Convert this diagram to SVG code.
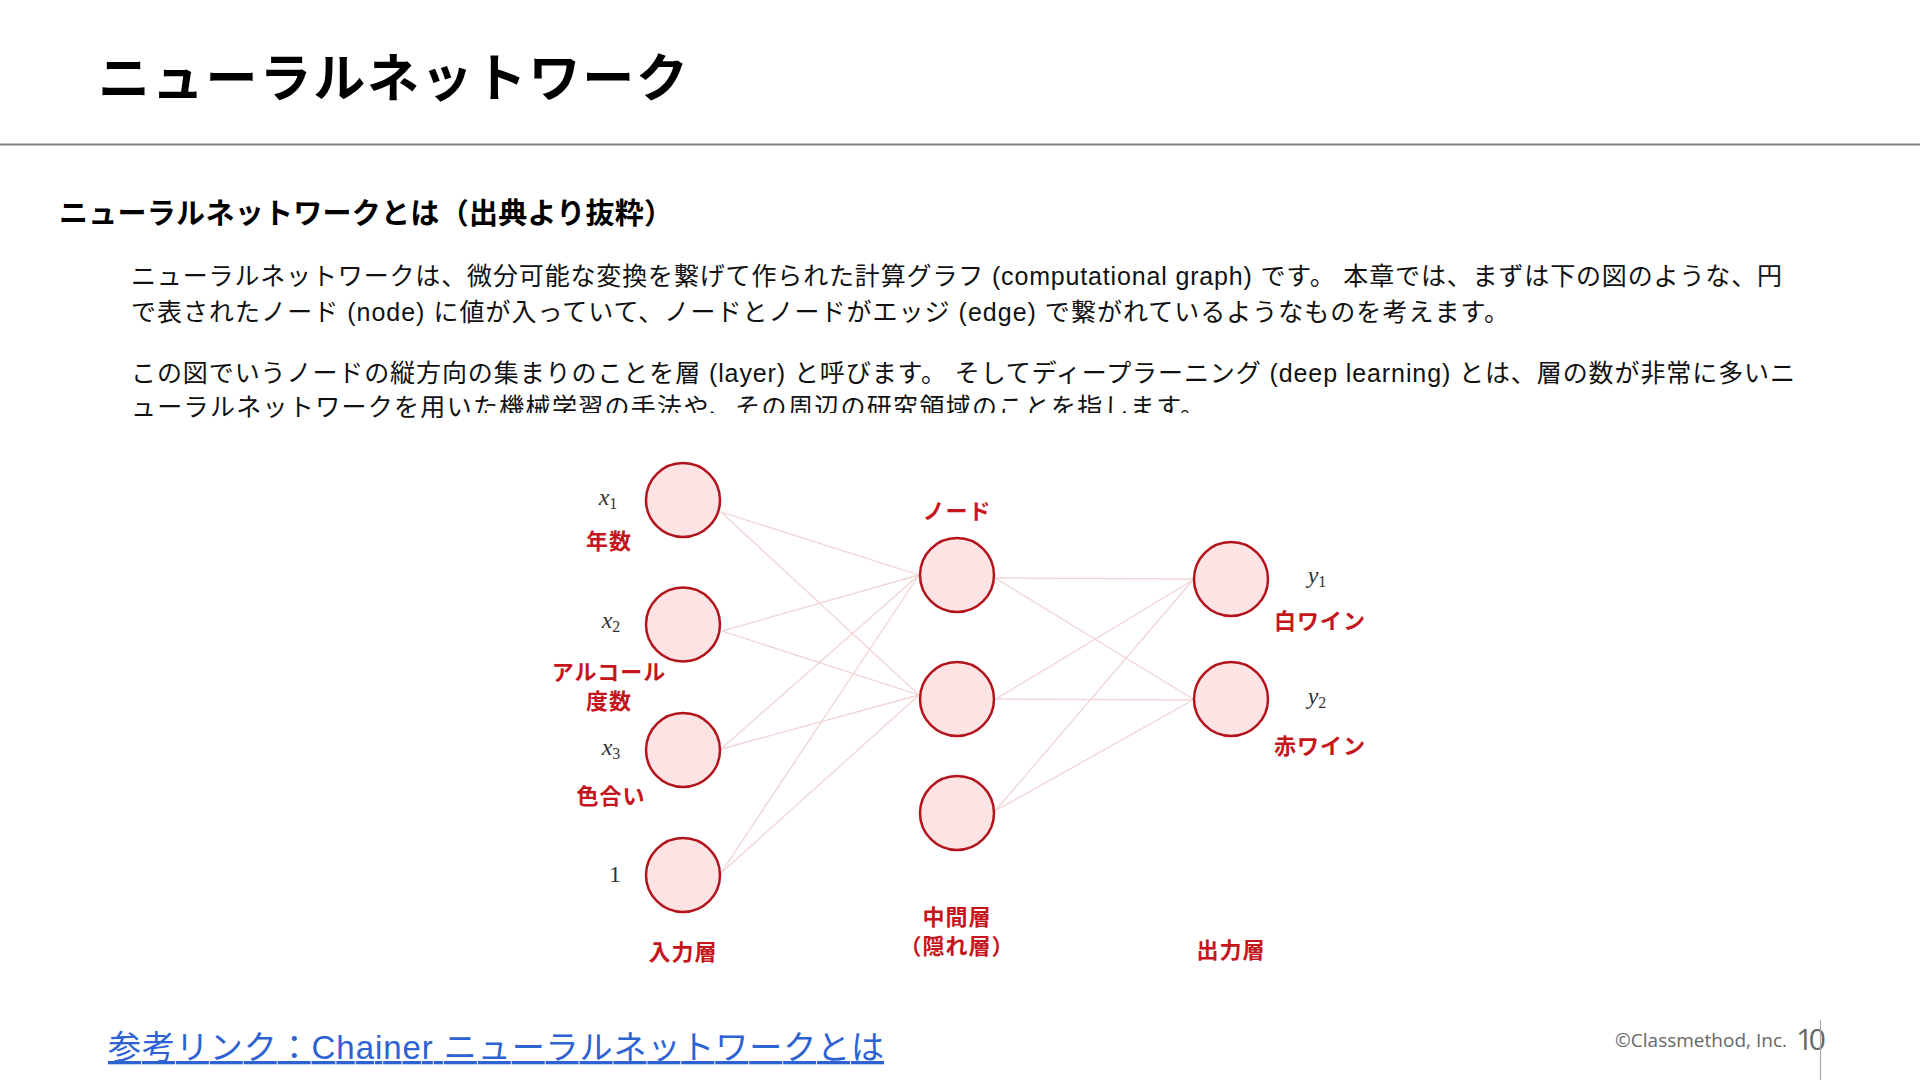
<svg xmlns="http://www.w3.org/2000/svg" width="1920" height="1080" viewBox="0 0 1920 1080">
<defs>
<style>
.jp{font-family:"Liberation Sans","Noto Sans CJK JP",sans-serif}
.title{font-size:52px;font-weight:bold;fill:#000}
.sub{font-size:29px;font-weight:bold;fill:#000}
.para{font-size:25px;fill:#111}
.node{fill:#fde3e3;stroke:#b3131b;stroke-width:2.5}
.edge{stroke:#f2d4d4;stroke-width:1.3;fill:none}
.lab{font-family:"Noto Sans CJK JP",sans-serif;font-size:22px;font-weight:bold;fill:#c4161c;text-anchor:middle;letter-spacing:1px}
.math{font-family:"Liberation Serif",serif;font-size:24px;fill:#333;text-anchor:middle}
.link{font-size:33px;fill:#2d62d3}
.foot{font-family:"Open Sans","Noto Sans",sans-serif;fill:#666}
</style>
<clipPath id="clipL"><rect x="0" y="0" width="474" height="422"/></clipPath>
<clipPath id="clipR"><rect x="474" y="0" width="1446" height="413"/></clipPath>
</defs>
<rect width="1920" height="1080" fill="#fff"/>

<g id="header">
<text class="jp title" x="98" y="97" textLength="590">ニューラルネットワーク</text>
<line x1="0" y1="144.5" x2="1920" y2="144.5" stroke="#808080" stroke-width="2"/>
</g>

<g id="intro">
<text class="jp sub" x="59" y="224" textLength="614">ニューラルネットワークとは（出典より抜粋）</text>
<text class="jp para" x="131" y="285" textLength="1651">ニューラルネットワークは、微分可能な変換を繋げて作られた計算グラフ (computational graph) です。 本章では、まずは下の図のような、円</text>
<text class="jp para" x="131" y="320.5" textLength="1378">で表されたノード (node) に値が入っていて、ノードとノードがエッジ (edge) で繋がれているようなものを考えます。</text>
<text class="jp para" x="131" y="381.5" textLength="1664">この図でいうノードの縦方向の集まりのことを層 (layer) と呼びます。 そしてディープラーニング (deep learning) とは、層の数が非常に多いニ</text>
<g clip-path="url(#clipL)">
<text class="jp para" x="131" y="416" textLength="1074">ューラルネットワークを用いた機械学習の手法や、その周辺の研究領域のことを指します。</text>
</g>
<g clip-path="url(#clipR)">
<text class="jp para" x="131" y="416" textLength="1074">ューラルネットワークを用いた機械学習の手法や、その周辺の研究領域のことを指します。</text>
</g>
</g>

<g id="connectors">
<line class="edge" x1="721" y1="512" x2="919" y2="575"/>
<line class="edge" x1="721" y1="512" x2="919" y2="695"/>
<line class="edge" x1="722" y1="631" x2="919" y2="575"/>
<line class="edge" x1="722" y1="631" x2="919" y2="695"/>
<line class="edge" x1="721" y1="749" x2="919" y2="575"/>
<line class="edge" x1="721" y1="749" x2="919" y2="695"/>
<line class="edge" x1="721" y1="873" x2="919" y2="575"/>
<line class="edge" x1="721" y1="873" x2="919" y2="695"/>
<line class="edge" x1="995" y1="578" x2="1193" y2="579"/>
<line class="edge" x1="995" y1="578" x2="1193" y2="699"/>
<line class="edge" x1="996" y1="699" x2="1193" y2="580"/>
<line class="edge" x1="996" y1="699" x2="1193" y2="700"/>
<line class="edge" x1="995" y1="811" x2="1193" y2="580"/>
<line class="edge" x1="995" y1="811" x2="1193" y2="700"/>
</g>

<g id="input-x1">
<circle class="node" cx="683" cy="500" r="37"/>
<text class="math" x="608" y="505"><tspan font-style="italic">x</tspan><tspan font-size="16" dy="4">1</tspan></text>
<text class="lab" x="609" y="549">年数</text>
</g>
<g id="input-x2">
<circle class="node" cx="683" cy="624.5" r="37"/>
<text class="math" x="611" y="628"><tspan font-style="italic">x</tspan><tspan font-size="16" dy="4">2</tspan></text>
<text class="lab" x="609" y="680">アルコール</text>
<text class="lab" x="609" y="709">度数</text>
</g>
<g id="input-x3">
<circle class="node" cx="683" cy="750" r="37"/>
<text class="math" x="611" y="755"><tspan font-style="italic">x</tspan><tspan font-size="16" dy="4">3</tspan></text>
<text class="lab" x="611" y="804">色合い</text>
</g>
<g id="input-bias">
<circle class="node" cx="683" cy="875" r="37"/>
<text class="math" x="615" y="882" font-size="21">1</text>
</g>
<g id="hidden-1">
<circle class="node" cx="957" cy="575" r="37"/>
<text class="lab" x="957" y="519">ノード</text>
</g>
<g id="hidden-2">
<circle class="node" cx="957" cy="699" r="37"/>
</g>
<g id="hidden-3">
<circle class="node" cx="957" cy="813" r="37"/>
</g>
<g id="output-1">
<circle class="node" cx="1231" cy="579" r="37"/>
<text class="math" x="1317" y="583"><tspan font-style="italic">y</tspan><tspan font-size="16" dy="4">1</tspan></text>
<text class="lab" x="1320" y="629">白ワイン</text>
</g>
<g id="output-2">
<circle class="node" cx="1231" cy="699" r="37"/>
<text class="math" x="1317" y="704"><tspan font-style="italic">y</tspan><tspan font-size="16" dy="4">2</tspan></text>
<text class="lab" x="1320" y="754">赤ワイン</text>
</g>

<g id="layer-labels">
<text class="lab" x="683" y="960">入力層</text>
<text class="lab" x="957" y="925">中間層</text>
<text class="lab" x="957" y="954">（隠れ層）</text>
<text class="lab" x="1231" y="958">出力層</text>
</g>

<g id="footer">
<text class="jp link" x="108" y="1059" textLength="776" text-decoration="underline">参考リンク：Chainer ニューラルネットワークとは</text>
<text class="foot" x="1615" y="1047" font-size="19" textLength="172">©Classmethod, Inc.</text>
<text class="foot" x="1796" y="1050" font-size="30" fill="#555" textLength="30">10</text>
<line x1="1820.5" y1="1020" x2="1820.5" y2="1080" stroke="#aaa" stroke-width="1.2"/>
</g>
</svg>
